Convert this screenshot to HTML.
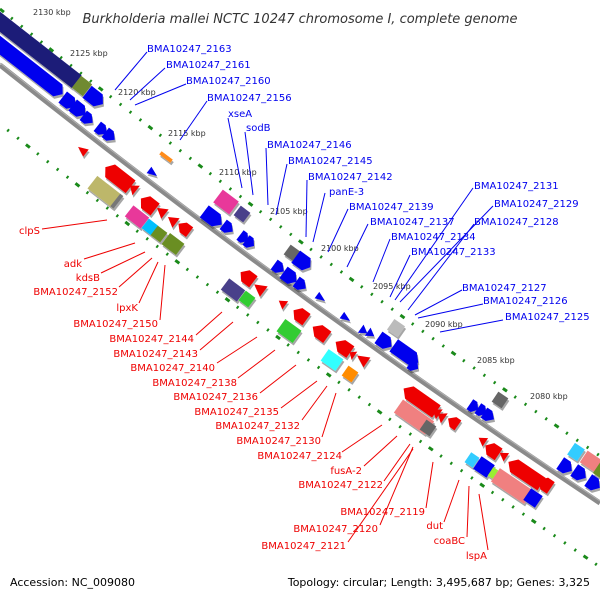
<!DOCTYPE html>
<html><head><meta charset="utf-8"><style>
html,body{margin:0;padding:0;background:#fff;}
svg{display:block;font-family:"DejaVu Sans","Liberation Sans",sans-serif;}
.k{font-size:8px;fill:#333;}
.b{font-size:10px;fill:#0000ee;}
.r{font-size:10px;fill:#ee0000;text-anchor:end;}
.lb{stroke:#0000ee;stroke-width:1;fill:none;}
.lr{stroke:#ee0000;stroke-width:1;fill:none;}
.t{filter:url(#sh);}
</style></head><body>
<svg width="600" height="600" viewBox="0 0 600 600" xmlns="http://www.w3.org/2000/svg">
<defs><filter id="sh" x="-20%" y="-20%" width="140%" height="160%"><feDropShadow dx="1" dy="2.5" stdDeviation="0" flood-color="#000" flood-opacity="0.35"/></filter></defs>
<rect width="600" height="600" fill="#fff"/>
<text x="300" y="23" font-size="13" font-style="italic" fill="#333" text-anchor="middle">Burkholderia mallei NCTC 10247 chromosome I, complete genome</text>

<path d="M0,9 Q300,250 600,456" fill="none" stroke="#1a8a1a" stroke-width="3" stroke-dasharray="5 9.1 2 10.6 2 10.6 2 10.6 2 9.1"/>
<path d="M0,124 Q300,362 600,567" fill="none" stroke="#1a8a1a" stroke-width="3" stroke-dasharray="5 9.1 2 10.6 2 10.6 2 10.6 2 9.1" stroke-dashoffset="30"/>
<path d="M0,65 Q300,304 600,503" fill="none" stroke="#8a8a8a" stroke-width="5"/>
<path d="M0,63 Q300,302 600,501" fill="none" stroke="#b0b0b0" stroke-width="1"/>

<g class="k">
<text x="33" y="15">2130 kbp</text><text x="70" y="56">2125 kbp</text><text x="118" y="95">2120 kbp</text>
<text x="168" y="136">2115 kbp</text><text x="219" y="175">2110 kbp</text><text x="270" y="214">2105 kbp</text>
<text x="321" y="251">2100 kbp</text><text x="373" y="289">2095 kbp</text><text x="425" y="327">2090 kbp</text>
<text x="477" y="363">2085 kbp</text><text x="530" y="399">2080 kbp</text>
</g>

<g class="t">
<!-- upper -->
<g transform="translate(31,46) rotate(38)"><rect x="-58" y="-8" width="116" height="16" fill="#1c1c78"/></g>
<g transform="translate(82,86) rotate(38)"><rect x="-7" y="-7.5" width="14" height="15" fill="#708a30"/></g>
<g transform="translate(95,98) rotate(38)"><polygon points="-10,-7.5 4,-7.5 10,0 4,7.5 -10,7.5" fill="#0000ee"/></g>
<g transform="translate(24,64) rotate(38)"><polygon points="-49,-7.5 43,-7.5 49,0 43,7.5 -49,7.5" fill="#0000ee"/></g>
<g transform="translate(69,102) rotate(38)"><polygon points="-8,-7 2,-7 8,0 2,7 -8,7" fill="#0000ee"/></g>
<g transform="translate(79,110) rotate(38)"><polygon points="-8,-7 2,-7 8,0 2,7 -8,7" fill="#0000ee"/></g>
<g transform="translate(88,119) rotate(38)"><polygon points="-6,-6 0,-6 6,0 0,6 -6,6" fill="#0000ee"/></g>
<g transform="translate(102,130) rotate(38)"><polygon points="-6,-6 0,-6 6,0 0,6 -6,6" fill="#0000ee"/></g>
<g transform="translate(110,136) rotate(38)"><polygon points="-6,-6 0,-6 6,0 0,6 -6,6" fill="#0000ee"/></g>
<g transform="translate(166,157) rotate(37)"><rect x="-7" y="-2" width="14" height="4" fill="#ff8c1a"/></g>
<g transform="translate(153,173) rotate(37)"><polygon points="-5,-4 5,0 -5,4" fill="#0000ee"/></g>
<g transform="translate(226,202) rotate(37)"><rect x="-10" y="-8" width="20" height="16" fill="#e8389a"/></g>
<g transform="translate(242,214) rotate(37)"><rect x="-6" y="-6" width="12" height="12" fill="#4a3f8a"/></g>
<g transform="translate(213,218) rotate(37)"><polygon points="-11,-7.5 4,-7.5 11,0 4,7.5 -11,7.5" fill="#0000ee"/></g>
<g transform="translate(228,228) rotate(37)"><polygon points="-6,-6 0,-6 6,0 0,6 -6,6" fill="#0000ee"/></g>
<g transform="translate(244,238) rotate(37)"><polygon points="-5,-6 0,-6 5,0 0,6 -5,6" fill="#0000ee"/></g>
<g transform="translate(250,243) rotate(37)"><polygon points="-5,-6 0,-6 5,0 0,6 -5,6" fill="#0000ee"/></g>
<g transform="translate(292,253) rotate(36)"><rect x="-6" y="-6" width="12" height="12" fill="#666"/></g>
<g transform="translate(303,262) rotate(36)"><polygon points="-9,-7.5 4,-7.5 9,0 4,7.5 -9,7.5" fill="#0000ee"/></g>
<g transform="translate(279,268) rotate(36)"><polygon points="-6,-6 0,-6 6,0 0,6 -6,6" fill="#0000ee"/></g>
<g transform="translate(290,277) rotate(36)"><polygon points="-8,-7 2,-7 8,0 2,7 -8,7" fill="#0000ee"/></g>
<g transform="translate(301,285) rotate(36)"><polygon points="-6,-6 0,-6 6,0 0,6 -6,6" fill="#0000ee"/></g>
<g transform="translate(321,298) rotate(36)"><polygon points="-5,-4 5,0 -5,4" fill="#0000ee"/></g>
<g transform="translate(346,318) rotate(35)"><polygon points="-5,-4 5,0 -5,4" fill="#0000ee"/></g>
<g transform="translate(364,331) rotate(35)"><polygon points="-4,-5 4,0 -4,5" fill="#0000ee"/></g>
<g transform="translate(371,334) rotate(35)"><polygon points="-4,-5 4,0 -4,5" fill="#0000ee"/></g>
<g transform="translate(396,328) rotate(35)"><rect x="-6.5" y="-6.5" width="13" height="13" fill="#bbb"/></g>
<g transform="translate(385,342) rotate(35)"><polygon points="-8,-7 2,-7 8,0 2,7 -8,7" fill="#0000ee"/></g>
<g transform="translate(406,354) rotate(35)"><polygon points="-15,-7.5 8,-7.5 15,0 8,7.5 -15,7.5" fill="#0000ee"/></g>
<g transform="translate(414,366) rotate(35)"><polygon points="-5,-6 0,-6 5,0 0,6 -5,6" fill="#0000ee"/></g>
<g transform="translate(474,407) rotate(34)"><polygon points="-5,-6 0,-6 5,0 0,6 -5,6" fill="#0000ee"/></g>
<g transform="translate(482,411) rotate(34)"><polygon points="-5,-6 0,-6 5,0 0,6 -5,6" fill="#0000ee"/></g>
<g transform="translate(489,416) rotate(34)"><polygon points="-6,-6 0,-6 6,0 0,6 -6,6" fill="#0000ee"/></g>
<g transform="translate(500,400) rotate(34)"><rect x="-6" y="-6" width="12" height="12" fill="#666"/></g>
<g transform="translate(566,467) rotate(34)"><polygon points="-7,-7 1,-7 7,0 1,7 -7,7" fill="#0000ee"/></g>
<g transform="translate(580,474) rotate(34)"><polygon points="-7,-7 1,-7 7,0 1,7 -7,7" fill="#0000ee"/></g>
<g transform="translate(594,484) rotate(34)"><polygon points="-7,-7 1,-7 7,0 1,7 -7,7" fill="#0000ee"/></g>
<g transform="translate(576,452) rotate(34)"><rect x="-6" y="-7" width="12" height="14" fill="#33ccff"/></g>
<g transform="translate(592,462) rotate(34)"><rect x="-10" y="-7" width="20" height="14" fill="#f08080"/></g>
<g transform="translate(601,470) rotate(34)"><rect x="-5" y="-7" width="10" height="14" fill="#6b8e23"/></g>

<!-- lower -->
<g transform="translate(82,150) rotate(38)"><polygon points="5,-4.5 -5,0 5,4.5" fill="#ee0000"/></g>
<g transform="translate(118,177) rotate(38)"><polygon points="16,-8 -10,-8 -16,0 -10,8 16,8" fill="#ee0000"/></g>
<g transform="translate(133,188) rotate(38)"><polygon points="4,-6 -4,0 4,6" fill="#ee0000"/></g>
<g transform="translate(105,192) rotate(38)"><rect x="-16" y="-8" width="32" height="16" fill="#bdb76b"/><rect x="13" y="-8" width="4" height="16" fill="#777"/></g>
<g transform="translate(148,204) rotate(38)"><polygon points="9,-7.5 -3,-7.5 -9,0 -3,7.5 9,7.5" fill="#ee0000"/></g>
<g transform="translate(161,211) rotate(38)"><polygon points="5,-6 -5,0 5,6" fill="#ee0000"/></g>
<g transform="translate(172,220) rotate(37)"><polygon points="5,-6 -5,0 5,6" fill="#ee0000"/></g>
<g transform="translate(184,228) rotate(37)"><polygon points="7,-6 -1,-6 -7,0 -1,6 7,6" fill="#ee0000"/></g>
<g transform="translate(137,217) rotate(38)"><rect x="-10" y="-7" width="20" height="14" fill="#e8389a"/></g>
<g transform="translate(150,227) rotate(38)"><rect x="-6" y="-6" width="12" height="12" fill="#00bfff"/></g>
<g transform="translate(159,234) rotate(37)"><rect x="-6" y="-6" width="12" height="12" fill="#6b8e23"/></g>
<g transform="translate(173,244) rotate(37)"><rect x="-9" y="-7" width="18" height="14" fill="#6b8e23"/></g>
<g transform="translate(247,277) rotate(37)"><polygon points="8,-7 -2,-7 -8,0 -2,7 8,7" fill="#ee0000"/></g>
<g transform="translate(259,288) rotate(37)"><polygon points="6,-6.5 -6,0 6,6.5" fill="#ee0000"/></g>
<g transform="translate(233,290) rotate(37)"><rect x="-10" y="-7" width="20" height="14" fill="#4a3f8a"/></g>
<g transform="translate(247,299) rotate(37)"><rect x="-6" y="-6" width="12" height="12" fill="#33cc33"/></g>
<g transform="translate(282,303) rotate(36)"><polygon points="4,-5 -4,0 4,5" fill="#ee0000"/></g>
<g transform="translate(300,315) rotate(36)"><polygon points="8,-7 -2,-7 -8,0 -2,7 8,7" fill="#ee0000"/></g>
<g transform="translate(320,332) rotate(36)"><polygon points="9,-7 -2,-7 -9,0 -2,7 9,7" fill="#ee0000"/></g>
<g transform="translate(343,347) rotate(35)"><polygon points="9,-7 -2,-7 -9,0 -2,7 9,7" fill="#ee0000"/></g>
<g transform="translate(352,354) rotate(35)"><polygon points="3,-5 -3,0 3,5" fill="#ee0000"/></g>
<g transform="translate(362,359) rotate(35)"><polygon points="6,-6 -6,0 6,6" fill="#ee0000"/></g>
<g transform="translate(289,331) rotate(36)"><rect x="-10" y="-7.5" width="20" height="15" fill="#33cc33"/></g>
<g transform="translate(332,360) rotate(35)"><rect x="-9" y="-7" width="18" height="14" fill="#33ffff"/></g>
<g transform="translate(350,374) rotate(35)"><rect x="-6" y="-6" width="12" height="12" fill="#ff8c00"/></g>
<g transform="translate(407,392) rotate(35)"><polygon points="4,-5 -4,0 4,5" fill="#ee0000"/></g>
<g transform="translate(420,400) rotate(35)"><polygon points="20,-7.5 -13,-7.5 -20,0 -13,7.5 20,7.5" fill="#ee0000"/></g>
<g transform="translate(436,412) rotate(35)"><polygon points="4,-6 -4,0 4,6" fill="#ee0000"/></g>
<g transform="translate(441,416) rotate(35)"><polygon points="4,-6 -4,0 4,6" fill="#ee0000"/></g>
<g transform="translate(453,422) rotate(35)"><polygon points="6,-6 0,-6 -6,0 0,6 6,6" fill="#ee0000"/></g>
<g transform="translate(414,417) rotate(35)"><rect x="-19" y="-8" width="38" height="16" fill="#f08080"/></g>
<g transform="translate(428,428) rotate(35)"><rect x="-6" y="-6" width="12" height="12" fill="#666"/></g>
<g transform="translate(482,440) rotate(34)"><polygon points="4,-5 -4,0 4,5" fill="#ee0000"/></g>
<g transform="translate(492,450) rotate(34)"><polygon points="8,-7 -2,-7 -8,0 -2,7 8,7" fill="#ee0000"/></g>
<g transform="translate(503,455) rotate(34)"><polygon points="4,-5 -4,0 4,5" fill="#ee0000"/></g>
<g transform="translate(525,473) rotate(34)"><polygon points="20,-7.5 -13,-7.5 -20,0 -13,7.5 20,7.5" fill="#ee0000"/></g>
<g transform="translate(545,484) rotate(34)"><polygon points="7,-7 -1,-7 -7,0 -1,7 7,7" fill="#ee0000"/></g>
<g transform="translate(472,460) rotate(34)"><rect x="-5" y="-6" width="10" height="12" fill="#33ccff"/></g>
<g transform="translate(484,467) rotate(34)"><rect x="-8" y="-7.5" width="16" height="15" fill="#0000ee"/></g>
<g transform="translate(493,473) rotate(34)"><rect x="-3" y="-5" width="6" height="10" fill="#99ee33"/></g>
<g transform="translate(512,486) rotate(34)"><rect x="-20" y="-8" width="40" height="16" fill="#f08080"/></g>
<g transform="translate(533,498) rotate(34)"><rect x="-7" y="-7" width="14" height="14" fill="#0000ee"/></g>
</g>

<!-- blue labels -->
<g class="lb">
<path d="M147,52 L115,90"/><path d="M165,68 L130,100"/><path d="M186,84 L135,105"/><path d="M207,101 L180,140"/>
<path d="M228,118 L242,188"/><path d="M245,132 L253,195"/><path d="M266,148 L268,205"/><path d="M287,164 L276,215"/>
<path d="M307,180 L306,237"/><path d="M325,193 L313,242"/><path d="M348,209 L328,252"/><path d="M368,224 L347,267"/>
<path d="M390,239 L373,282"/><path d="M410,255 L390,297"/><path d="M473,188 L395,300"/><path d="M493,206 L400,302"/>
<path d="M474,224 L408,310"/><path d="M462,290 L415,315"/><path d="M483,304 L418,318"/><path d="M503,320 L440,332"/>
</g>
<g class="b">
<text x="147" y="52">BMA10247_2163</text><text x="166" y="68">BMA10247_2161</text><text x="186" y="84">BMA10247_2160</text>
<text x="207" y="101">BMA10247_2156</text><text x="228" y="117">xseA</text><text x="246" y="131">sodB</text>
<text x="267" y="148">BMA10247_2146</text><text x="288" y="164">BMA10247_2145</text><text x="308" y="180">BMA10247_2142</text>
<text x="329" y="195">panE-3</text><text x="349" y="210">BMA10247_2139</text><text x="370" y="225">BMA10247_2137</text>
<text x="391" y="240">BMA10247_2134</text><text x="411" y="255">BMA10247_2133</text><text x="474" y="189">BMA10247_2131</text>
<text x="494" y="207">BMA10247_2129</text><text x="474" y="225">BMA10247_2128</text><text x="462" y="291">BMA10247_2127</text>
<text x="483" y="304">BMA10247_2126</text><text x="505" y="320">BMA10247_2125</text>
</g>

<!-- red labels -->
<g class="lr">
<path d="M42,229 L107,220"/><path d="M84,259 L135,243"/><path d="M101,273 L145,252"/><path d="M119,287 L152,258"/>
<path d="M139,303 L158,262"/><path d="M160,320 L165,265"/><path d="M196,335 L222,312"/><path d="M200,350 L233,322"/>
<path d="M217,363 L257,337"/><path d="M238,378 L275,350"/><path d="M260,393 L296,365"/><path d="M281,408 L317,381"/>
<path d="M302,420 L327,386"/><path d="M322,437 L336,393"/><path d="M342,452 L382,425"/><path d="M364,466 L397,436"/>
<path d="M384,481 L410,444"/><path d="M426,508 L433,462"/><path d="M380,525 L413,447"/><path d="M348,542 L413,449"/>
<path d="M444,522 L459,480"/><path d="M467,537 L469,486"/><path d="M488,550 L479,494"/>
</g>
<g class="r">
<text x="40" y="234">clpS</text><text x="82" y="267">adk</text><text x="100" y="281">kdsB</text>
<text x="118" y="295">BMA10247_2152</text><text x="138" y="311">lpxK</text><text x="158" y="327">BMA10247_2150</text>
<text x="194" y="342">BMA10247_2144</text><text x="198" y="357">BMA10247_2143</text><text x="215" y="371">BMA10247_2140</text>
<text x="237" y="386">BMA10247_2138</text><text x="258" y="400">BMA10247_2136</text><text x="279" y="415">BMA10247_2135</text>
<text x="300" y="429">BMA10247_2132</text><text x="321" y="444">BMA10247_2130</text><text x="342" y="459">BMA10247_2124</text>
<text x="362" y="474">fusA-2</text><text x="383" y="488">BMA10247_2122</text><text x="425" y="515">BMA10247_2119</text>
<text x="378" y="532">BMA10247_2120</text><text x="346" y="549">BMA10247_2121</text><text x="443" y="529">dut</text>
<text x="465" y="544">coaBC</text><text x="487" y="559">lspA</text>
</g>

<text x="10" y="586" font-size="11" fill="#000">Accession: NC_009080</text>
<text x="590" y="586" font-size="11" fill="#000" text-anchor="end">Topology: circular; Length: 3,495,687 bp; Genes: 3,325</text>
</svg>
</body></html>
